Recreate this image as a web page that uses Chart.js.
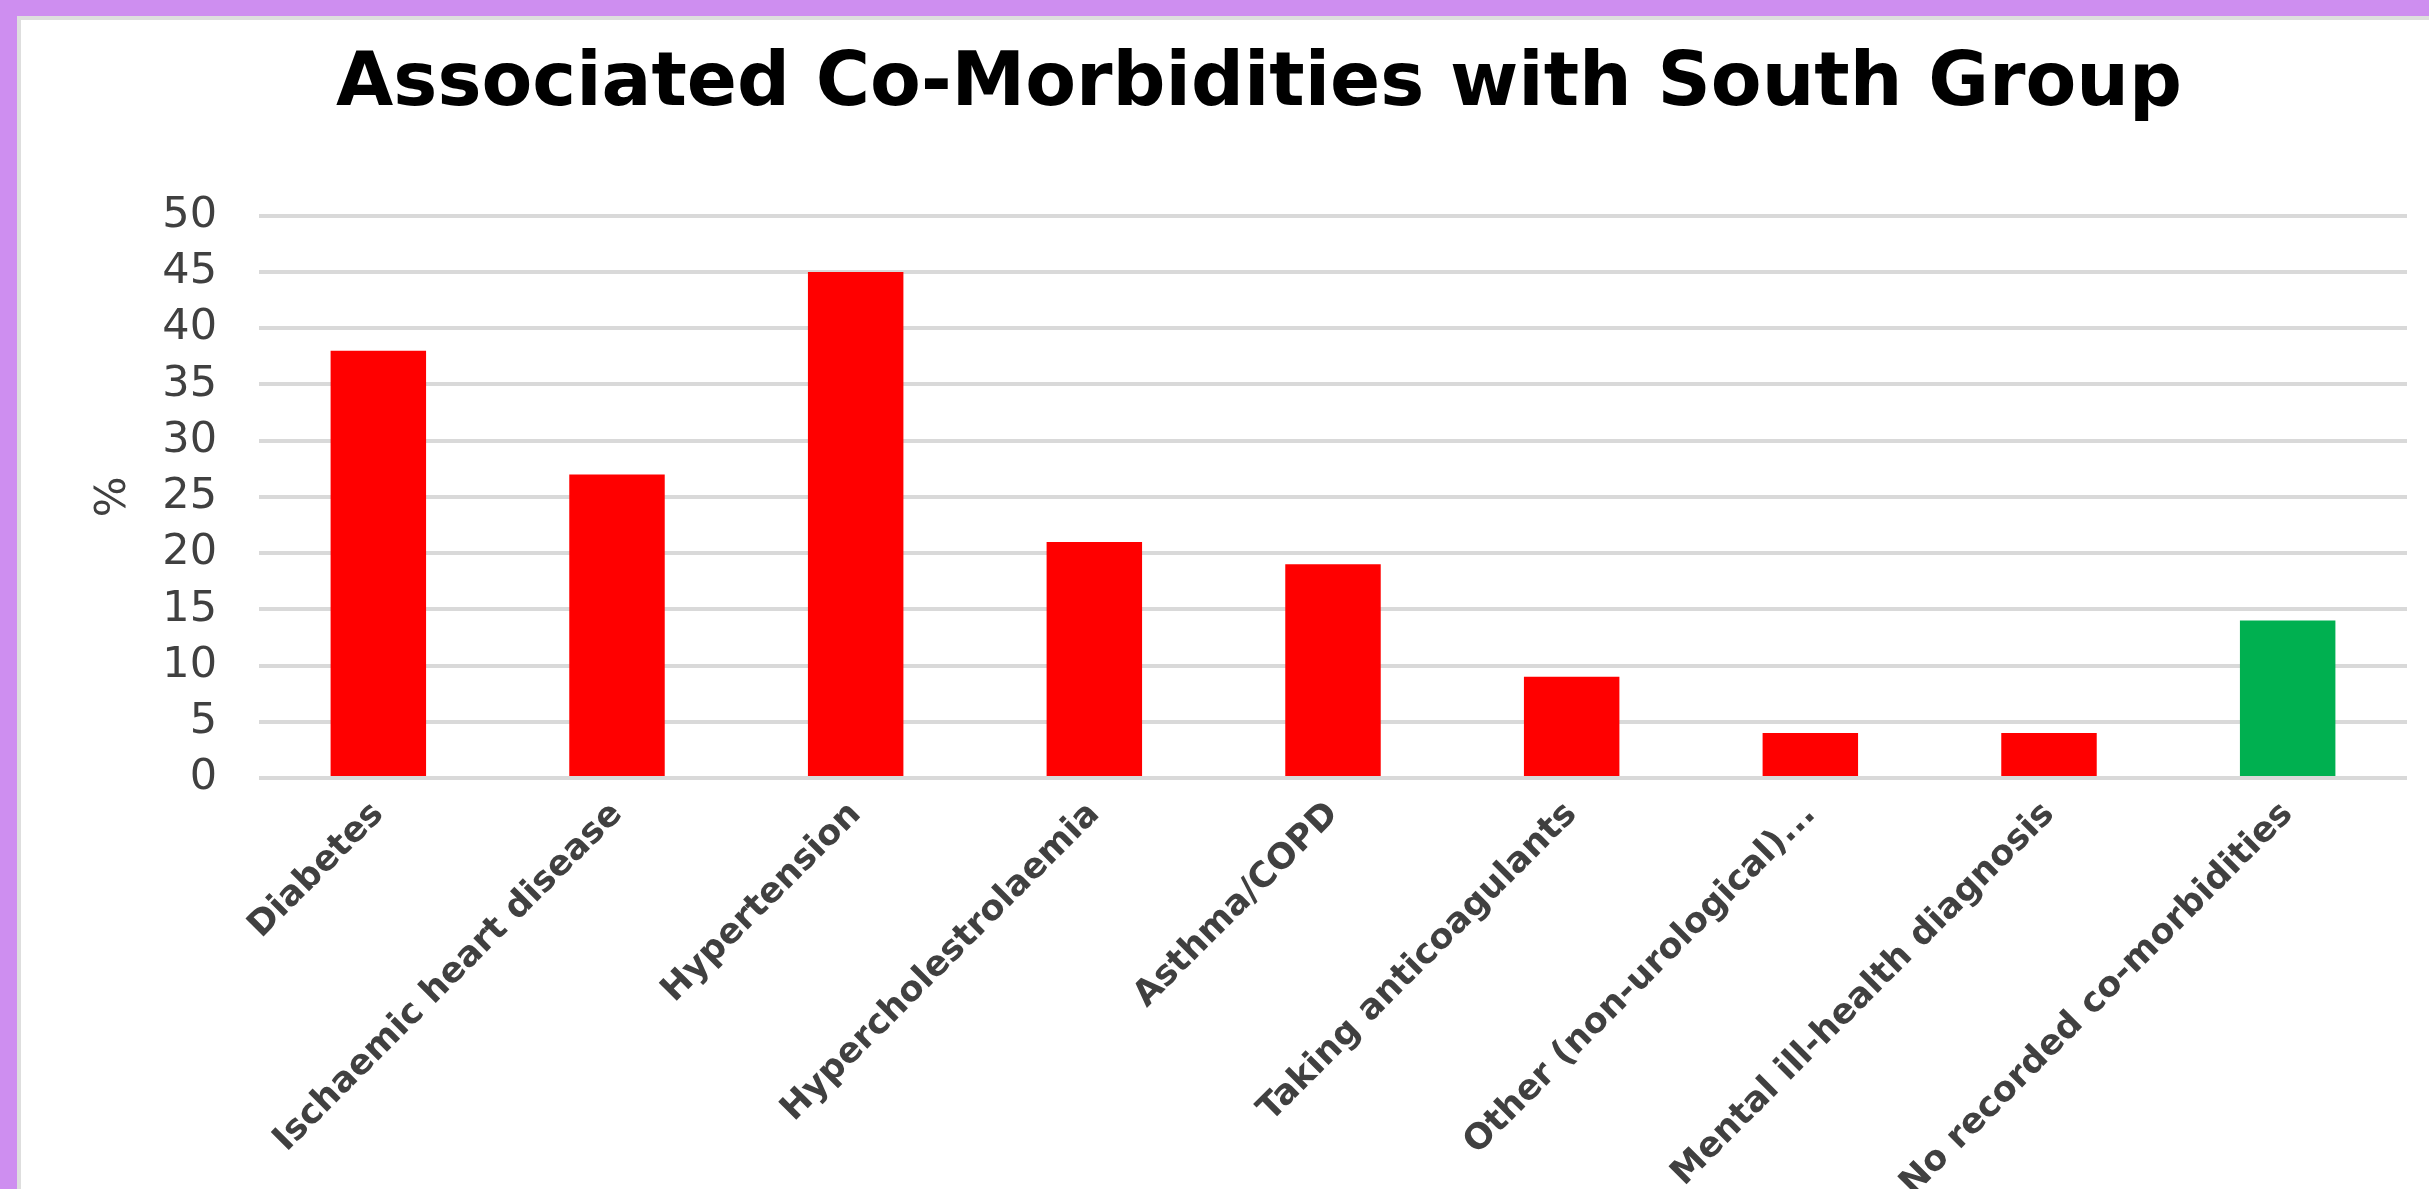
<!DOCTYPE html>
<html>
<head>
<meta charset="utf-8">
<script src="https://cdn.jsdelivr.net/npm/chart.js@4"></script>
<style>
  html, body { margin: 0; padding: 0; }
  body { width: 2429px; height: 1189px; background: #ce8ef0; overflow: hidden; position: relative; }
  #frame { position: absolute; left: 17px; top: 16px; right: 0; bottom: 0; background: #fff;
           border-top: 4px solid #dedede; border-left: 4px solid #dedede; }
  #wrap { position: absolute; left: 0; top: 0; width: 2408px; height: 1169px; }
</style>
</head>
<body>
<div id="frame"><div id="wrap"><canvas id="myChart"></canvas></div></div>
<script>
var categories = ['Diabetes', 'Ischaemic heart disease', 'Hypertension', 'Hypercholestrolaemia',
    'Asthma/COPD', 'Taking anticoagulants', 'Other (non-urological)...', 'Mental ill-health diagnosis',
    'No recorded co-morbidities'];
var percentages = [38, 27, 45, 21, 19, 9, 4, 4, 14];
var barColours = ['#ff0000', '#ff0000', '#ff0000', '#ff0000', '#ff0000', '#ff0000', '#ff0000', '#ff0000', '#00b050'];
var yTicks = [0, 5, 10, 15, 20, 25, 30, 35, 40, 45, 50];

var ctx = document.getElementById('myChart').getContext('2d');
var myChart = new Chart(ctx, {
    type: 'bar',
    data: {
        labels: categories,
        datasets: [{
            label: '%',
            data: percentages,
            backgroundColor: barColours,
            categoryPercentage: 1,
            barPercentage: 0.4
        }]
    },
    options: {
        responsive: true,
        maintainAspectRatio: false,
        animation: false,
        // left padding pushes the title centre to the right like the original
        layout: { padding: { left: 90, right: 22 } },
        plugins: {
            legend: { display: false },
            tooltip: { enabled: false },
            title: {
                display: true,
                text: 'Associated Co-Morbidities with South Group',
                color: '#000',
                font: { family: 'DejaVu Sans', size: 74, weight: 'bold' },
                padding: { top: 21, bottom: 86 }
            }
        },
        scales: {
            x: {
                grid: { display: false },
                border: { display: false },
                ticks: {
                    minRotation: 45,
                    maxRotation: 45,
                    autoSkip: false,
                    padding: 8,
                    color: '#404040',
                    font: { family: 'DejaVu Sans', size: 35, weight: 'bold' }
                },
                afterFit: function (scale) { scale.height = 411; }
            },
            y: {
                min: 0,
                max: 50,
                afterBuildTicks: function (scale) {
                    scale.ticks = yTicks.map(function (v) { return { value: v }; });
                },
                grid: { color: '#d9d9d9', lineWidth: 4, drawTicks: false },
                border: { display: false },
                ticks: {
                    padding: 42,
                    color: '#404040',
                    font: { family: 'DejaVu Sans', size: 43 }
                },
                title: {
                    display: true,
                    text: '%',
                    color: '#404040',
                    font: { family: 'DejaVu Sans', size: 43, lineHeight: 0.1 },
                    padding: { top: 1, bottom: 0 }
                },
                afterFit: function (scale) { scale.width = 148; }
            }
        }
    }
});
</script>
</body>
</html>
